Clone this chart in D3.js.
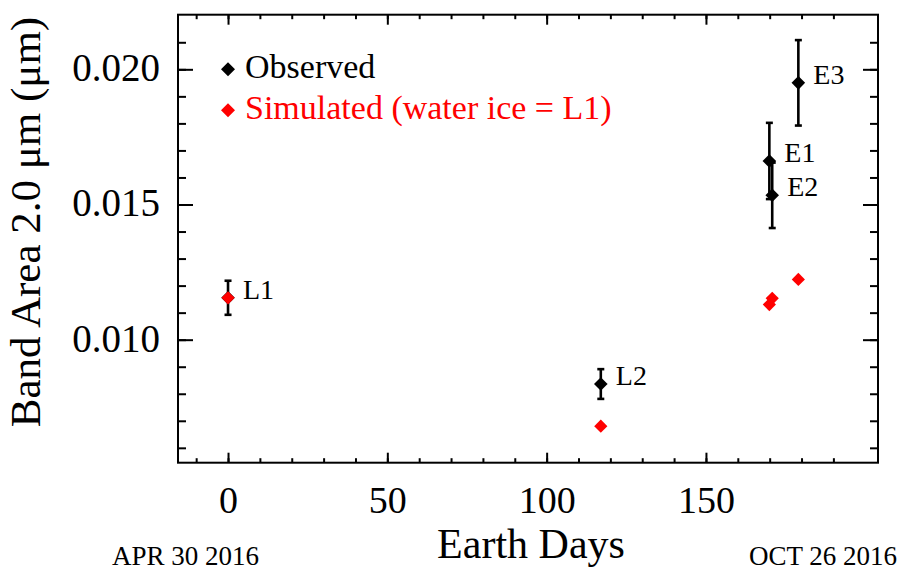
<!DOCTYPE html>
<html>
<head>
<meta charset="utf-8">
<script src="https://cdn.jsdelivr.net/npm/d3@7"></script>
<style>
  html, body { margin: 0; padding: 0; background: #fff; }
  svg { display: block; }
  text { font-family: "Liberation Serif", "Times New Roman", serif; }
</style>
</head>
<body>
<svg id="chart" width="904" height="572"></svg>
<script>
// ---- data ----
const labels     = ["L1", "L2", "E1", "E2", "E3"];
const days       = [0, 117.0, 169.9, 170.8, 179.0];
const observed   = [0.01155, 0.00836, 0.01661, 0.01534, 0.0195];
const obsError   = [0.00063, 0.00055, 0.00141, 0.00121, 0.00158];
const simulated  = [0.01155, 0.0068, 0.0113, 0.01153, 0.01223];
const xMajorTicks = [0, 50, 100, 150];
const xTickLabels = ["0", "50", "100", "150"];
const xMinorTicks = [-10, 0, 10, 20, 30, 40, 50, 60, 70, 80, 90, 100, 110, 120, 130, 140, 150, 160, 170, 180, 190];
const yMajorTicks = [0.010, 0.015, 0.020];
const yTickLabels = ["0.010", "0.015", "0.020"];
const yMinorTicks = [0.006, 0.007, 0.008, 0.009, 0.010, 0.011, 0.012, 0.013, 0.014, 0.015, 0.016, 0.017, 0.018, 0.019, 0.020, 0.021];
const legendItems = ["Observed", "Simulated (water ice = L1)"];
const legendColors = ["#000000", "#ff0000"];
const dateLabels = ["APR 30 2016", "OCT 26 2016"];

// ---- layout ----
const L = 178, R = 878, T = 14.7, B = 462.7;
const svg = d3.select("#chart");
const x = d3.scaleLinear().domain([-15.7, 204]).range([L, R]);
const y = d3.scaleLinear().domain([0.00545, 0.02202]).range([B, T]);

const axisStroke = g => {
  g.select(".domain").remove();
  g.selectAll(".tick line").attr("stroke", "#000").attr("stroke-width", 2);
};

const xMinorLen = 4.5, xMajorLen = 10, yMinorLen = 8, yMajorLen = 15;
svg.append("g").attr("transform", `translate(0,${B})`)
  .call(d3.axisBottom(x).tickValues(xMinorTicks).tickSize(-xMinorLen).tickFormat(""))
  .call(axisStroke);
svg.append("g").attr("transform", `translate(0,${B})`)
  .call(d3.axisBottom(x).tickValues(xMajorTicks).tickSize(-xMajorLen).tickFormat((d, i) => xTickLabels[i]))
  .call(axisStroke)
  .call(g => g.selectAll(".tick text")
    .attr("y", 50).attr("dy", null)
    .attr("font-size", 38).attr("font-family", "Liberation Serif").attr("fill", "#000"));
svg.append("g").attr("transform", `translate(0,${T})`)
  .call(d3.axisTop(x).tickValues(xMinorTicks).tickSize(-xMinorLen).tickFormat(""))
  .call(axisStroke);
svg.append("g").attr("transform", `translate(0,${T})`)
  .call(d3.axisTop(x).tickValues(xMajorTicks).tickSize(-xMajorLen).tickFormat(""))
  .call(axisStroke);

svg.append("g").attr("transform", `translate(${L},0)`)
  .call(d3.axisLeft(y).tickValues(yMinorTicks).tickSize(-yMinorLen).tickFormat(""))
  .call(axisStroke);
svg.append("g").attr("transform", `translate(${L},0)`)
  .call(d3.axisLeft(y).tickValues(yMajorTicks).tickSize(-yMajorLen).tickFormat((d, i) => yTickLabels[i]))
  .call(axisStroke)
  .call(g => g.selectAll(".tick text")
    .attr("x", -18).attr("dy", null).attr("y", 11.5)
    .attr("font-size", 39).attr("font-family", "Liberation Serif").attr("fill", "#000"));
svg.append("g").attr("transform", `translate(${R},0)`)
  .call(d3.axisRight(y).tickValues(yMinorTicks).tickSize(-yMinorLen).tickFormat(""))
  .call(axisStroke);
svg.append("g").attr("transform", `translate(${R},0)`)
  .call(d3.axisRight(y).tickValues(yMajorTicks).tickSize(-yMajorLen).tickFormat(""))
  .call(axisStroke);

svg.append("rect").attr("x", L).attr("y", T).attr("width", R - L).attr("height", B - T)
  .attr("fill", "none").attr("stroke", "#000").attr("stroke-width", 2);

svg.append("text").attr("x", 531).attr("y", 558).attr("text-anchor", "middle")
  .attr("font-size", 42).text("Earth Days");
svg.append("text").attr("transform", "translate(40,222) rotate(-90)").attr("text-anchor", "middle")
  .attr("font-size", 43).text("Band Area 2.0 \u03bcm (\u03bcm)");
svg.append("text").attr("x", 112).attr("y", 565).attr("font-size", 27).text(dateLabels[0]);
svg.append("text").attr("x", 897).attr("y", 565).attr("text-anchor", "end").attr("font-size", 27).text(dateLabels[1]);

const diamond = (h) => `M0,${-h}L${h},0L0,${h}L${-h},0Z`;
const idx = d3.range(labels.length);

const eb = svg.append("g").attr("stroke", "#000").attr("stroke-width", 2.6).attr("fill", "none");
idx.forEach(i => {
  const cx = x(days[i]);
  const y1 = y(observed[i] + obsError[i]), y0 = y(observed[i] - obsError[i]);
  eb.append("line").attr("x1", cx).attr("x2", cx).attr("y1", y1).attr("y2", y0);
  eb.append("line").attr("x1", cx - 3.5).attr("x2", cx + 3.5).attr("y1", y1).attr("y2", y1);
  eb.append("line").attr("x1", cx - 3.5).attr("x2", cx + 3.5).attr("y1", y0).attr("y2", y0);
});

svg.append("g").selectAll("path").data(idx).join("path")
  .attr("transform", i => `translate(${x(days[i])},${y(observed[i])})`)
  .attr("d", diamond(6.8)).attr("fill", "#000");

svg.append("g").selectAll("path").data(idx).join("path")
  .attr("transform", i => `translate(${x(days[i])},${y(simulated[i])})`)
  .attr("d", diamond(6.6)).attr("fill", "#ff0000");

svg.append("g").selectAll("text").data(idx).join("text")
  .attr("x", i => x(days[i]) + 15).attr("y", i => y(observed[i]) + 1)
  .attr("font-size", 28).attr("fill", "#000").text(i => labels[i]);

const leg = svg.append("g");
legendItems.forEach((t, i) => {
  const ly = 69.3 + i * 41;
  leg.append("path").attr("transform", `translate(228,${ly})`).attr("d", diamond(7)).attr("fill", legendColors[i]);
  leg.append("text").attr("x", 245).attr("y", ly + 8.5).attr("font-size", 34)
    .attr("fill", legendColors[i]).text(t);
});
</script>
</body>
</html>
